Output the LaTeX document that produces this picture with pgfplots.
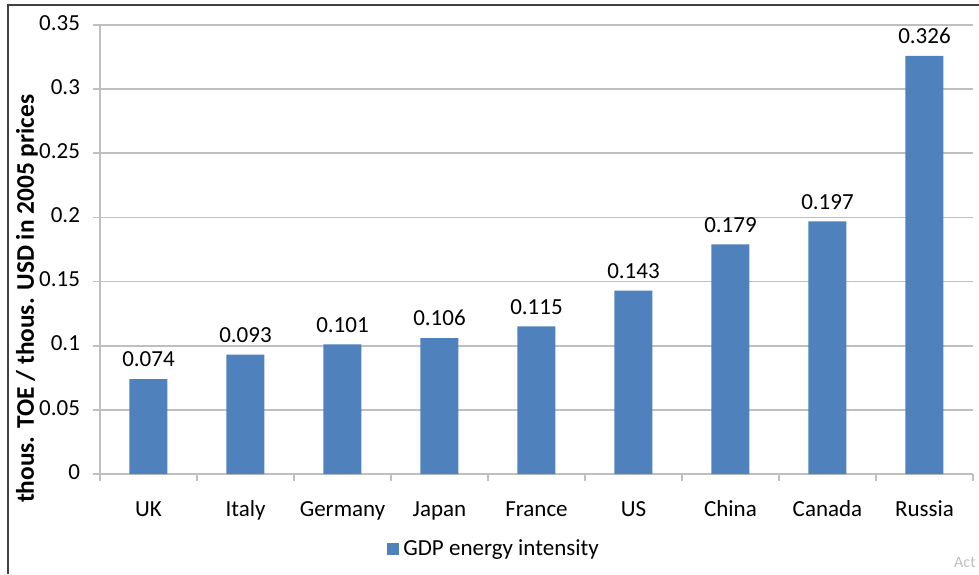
\documentclass[border=0pt]{standalone}
\usepackage{fontspec}
\setmainfont{Carlito}
\usepackage{pgfplots}
\pgfplotsset{compat=1.18}

\definecolor{barblue}{RGB}{79,129,189}
\definecolor{gridgray}{RGB}{191,191,191}

\begin{document}
\begin{tikzpicture}
\useasboundingbox (-50pt,-50pt) rectangle (439.5pt,237pt);
\begin{axis}[
    scale only axis,
    width=436.5pt, height=224.5pt,
    ybar, bar width=19pt,
    xmin=-0.5, xmax=8.5,
    ymin=0, ymax=0.35,
    ytick={0,0.05,...,0.35},
    xtick={0,...,8},
    xticklabels={UK,Italy,Germany,Japan,France,US,China,Canada,Russia},
    minor xtick={-0.5,0.5,...,8.5},
    major x tick style={draw=none},
    minor x tick style={gridgray, thick},
    minor tick length=3.5pt,
    axis x line*=bottom, axis y line*=left,
    axis line style={gridgray, thick, -},
    y tick style={gridgray, thick},
    tick align=outside,
    major tick length=3.5pt,
    ymajorgrids, grid style={gridgray, thick},
    scaled y ticks=false,
    /pgf/number format/assume math mode=true,
    yticklabel style={/pgf/number format/fixed, /pgf/number format/precision=2,
        font=\fontsize{11.5}{13}\selectfont, xshift=-3pt},
    typeset ticklabels with strut,
    xticklabel style={font=\fontsize{11.5}{13}\selectfont, yshift=-5pt},
    ylabel={thous. TOE / thous. USD in 2005 prices},
    ylabel style={at={(axis description cs:-0.0836,0.39)}, anchor=center,
        font=\bfseries\fontsize{12.7}{15}\selectfont},
    nodes near coords,
    nodes near coords style={font=\fontsize{11.5}{13}\selectfont, yshift=2.5pt,
        /pgf/number format/fixed, /pgf/number format/fixed zerofill,
        /pgf/number format/precision=3, /pgf/number format/assume math mode=true},
    legend style={draw=none, at={(axis description cs:0.4525,-0.167)}, anchor=center,
        font=\fontsize{11.5}{13}\selectfont},
    legend image code/.code={\fill[barblue] (0pt,-3pt) rectangle (6pt,3pt);},
]
\addplot[fill=barblue, draw=none] coordinates {
    (0,0.074) (1,0.093) (2,0.101) (3,0.106) (4,0.115)
    (5,0.143) (6,0.179) (7,0.197) (8,0.326)
};
\legend{GDP energy intensity}
\end{axis}
\draw[black!75, line width=0.8pt] (-46pt,-50pt) -- (-46pt,234.5pt) -- (439.5pt,234.5pt);
\node[anchor=east, text=black!25, font=\fontsize{8}{9}\selectfont, inner sep=1pt] at (439pt,-44pt) {Act};
\end{tikzpicture}
\end{document}
